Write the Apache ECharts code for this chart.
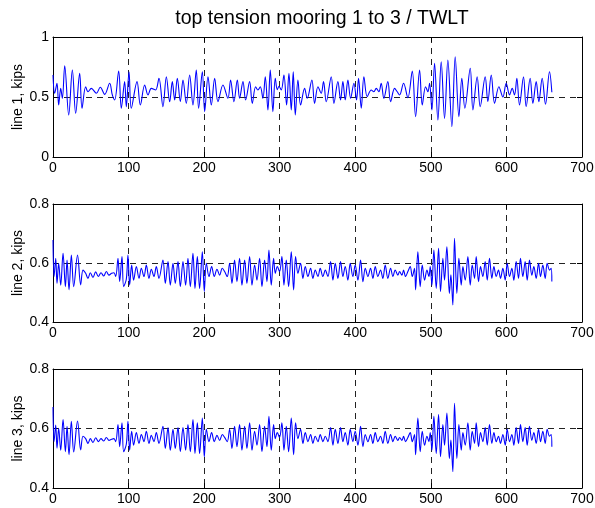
<!DOCTYPE html>
<html>
<head>
<meta charset="utf-8">
<script src="https://cdn.jsdelivr.net/npm/echarts@6/dist/echarts.min.js"></script>
<style>html,body{margin:0;padding:0;background:#fff}#c{width:595px;height:508px}</style>
</head>
<body>
<div id="c"></div>
<script>
// ---- data (time in s, tension in kips) ----
const titleText = 'top tension mooring 1 to 3 / TWLT';
const yNames = ['line 1, kips', 'line 2, kips', 'line 3, kips'];
const xTicks = [0, 100, 200, 300, 400, 500, 600, 700];
const yRange1 = [0, 1, 0.5];
const yRange23 = [0.4, 0.8, 0.2];

const time1 = [
  0, 2.2, 5.3, 7.5, 10.2, 12.4, 15.5, 20.8, 25.6, 30.0,
  35.3, 38.4, 43.2, 46.3, 50.7, 57.4, 62.6, 68.4, 75.0, 78.5,
  81.6, 86.9, 90.4, 94.8, 97.0, 100.6, 103.6, 111.2, 115.6, 121.3,
  125.7, 130.1, 135.8, 140.2, 145.5, 150.0, 154.4, 157.9, 161.0, 164.5,
  168.5, 172.0, 176.4, 180.8, 185.2, 189.6, 192.7, 197.6, 200.7, 205.1,
  209.5, 213.9, 218.3, 224.9,
  231.5, 235.0, 239.4, 243.9, 246.9, 251.4, 254.9, 260.2, 263.7, 268.1,
  271.2, 274.3, 277.8, 280.9, 284.4, 287.5, 291.0, 294.1, 296.8, 299.0,
  302.0, 305.6, 309.1, 312.2, 315.3, 317.9, 320.6, 324.1, 327.6, 332.9,
  336.4, 342.6, 346.1, 350.6, 354.9, 358.0, 361.6, 368.2, 371.7, 377.0,
  380.5, 383.6, 386.7, 390.2, 393.8, 398.2, 401.7, 404.3, 407.9, 411.4,
  415.8, 421.1, 424.6, 427.7, 431.2, 434.3, 437.8, 443.1, 446.7, 452.0,
  455.5,
  458.6, 463.9, 469.6, 475.4, 479.8, 485.1, 488.6, 493.0, 496.1, 498.3,
  501.4, 504.9, 509.3, 513.7, 518.1, 522.5, 527.8, 532.2, 537.1, 541.0,
  545.0, 552.1, 555.6, 561.3, 565.3, 571.9, 575.4, 579.9, 584.3, 590.0,
  595.3, 599.7, 604.1, 607.6, 610.7, 613.8, 617.3, 622.6, 626.1, 631.4,
  635.0, 639.4, 642.9, 647.3, 651.7, 657.0, 660.1
];
const line1 = [
  0.683, 0.531, 0.614, 0.433, 0.572, 0.489, 0.761, 0.350, 0.725, 0.364,
  0.697, 0.406, 0.586, 0.544, 0.572, 0.531, 0.581, 0.522, 0.614, 0.517,
  0.475, 0.717, 0.406, 0.628, 0.419, 0.711, 0.406, 0.628, 0.433, 0.600,
  0.517, 0.572, 0.558, 0.656, 0.419, 0.669, 0.461, 0.628, 0.475, 0.656,
  0.461, 0.642, 0.447, 0.683, 0.433, 0.725, 0.406, 0.711, 0.378, 0.669,
  0.433, 0.656, 0.461, 0.600,
  0.489, 0.642, 0.461, 0.642, 0.489, 0.628, 0.475, 0.628, 0.447, 0.586,
  0.558, 0.586, 0.489, 0.669, 0.392, 0.725, 0.378, 0.656, 0.560, 0.590,
  0.558, 0.683, 0.433, 0.697, 0.392, 0.711, 0.350, 0.642, 0.433, 0.572,
  0.489, 0.642, 0.447, 0.586, 0.531, 0.628, 0.461, 0.669, 0.447, 0.628,
  0.475, 0.628, 0.475, 0.642, 0.489, 0.614, 0.475, 0.656, 0.406, 0.669,
  0.503, 0.558, 0.544, 0.572, 0.544, 0.614, 0.489, 0.628, 0.461, 0.572,
  0.544,
  0.517, 0.614, 0.494, 0.717, 0.336, 0.725, 0.433, 0.586, 0.544, 0.614,
  0.392, 0.781, 0.308, 0.794, 0.322, 0.808, 0.253, 0.836, 0.336, 0.656,
  0.406, 0.739, 0.392, 0.669, 0.419, 0.669, 0.461, 0.683, 0.447, 0.586,
  0.500, 0.614, 0.517, 0.572, 0.517, 0.656, 0.433, 0.669, 0.419, 0.656,
  0.447, 0.628, 0.461, 0.656, 0.439, 0.711, 0.539
];

const time23 = [
  0, 1.4, 3.6, 5.3, 7.5, 10.2, 13.3, 16.4, 18.6, 21.2,
  24.3, 27.4, 32.5, 36.6, 39.7, 43.2, 46.3, 49.4, 52.9, 56.5,
  60.0, 63.5, 67.1, 70.6, 74.1, 77.6, 80.7, 83.0, 86.0, 88.2,
  91.3, 93.5, 97.0, 99.2, 101.4, 104.1, 106.7, 110.3, 113.8, 116.9,
  120.4, 123.5, 127.0, 130.1, 133.6, 136.7, 140.2, 145.5, 148.6, 152.2,
  155.2, 158.8, 161.8, 165.4, 168.5, 172.0, 175.5, 178.6, 181.7, 185.2,
  187.9, 191.0, 194.0, 197.6, 200.2, 202.9, 206.4, 209.9, 213.4, 217.0,
  220.5, 224.0,
  227.1, 230.6, 233.7, 236.8, 240.3, 243.4, 246.9, 250.0, 253.6, 256.6,
  260.2, 263.3, 266.8, 269.9, 273.4, 276.5, 280.0, 283.1, 285.7, 288.8,
  291.9, 294.1, 296.8, 299.8, 302.9, 305.6, 308.7, 311.8, 315.3, 318.4,
  321.0, 324.1, 327.6, 330.7, 333.8, 337.3, 340.9, 343.9, 347.0, 350.6,
  353.6, 357.2, 360.3, 363.8, 367.3, 370.4, 373.5, 377.0, 380.5, 383.6,
  386.7, 390.2, 393.3, 396.8, 399.9, 403.5, 407.0, 410.1, 413.2, 416.7,
  420.2, 423.3, 426.4, 429.9, 433.4, 436.5, 439.6, 443.1, 446.7, 449.8,
  452.8, 456.4,
  458.6, 461.7, 463.9, 466.5, 469.6, 472.7, 475.4, 478.4, 479.8, 482.8,
  485.9, 488.6, 491.7, 494.8, 497.4, 499.2, 501.4, 504.0, 507.1, 510.2,
  512.8, 515.9, 518.1, 521.2, 524.5, 526.5, 529.1, 531.3, 534.4, 537.1,
  540.2, 542.4, 545.5, 549.0, 552.1, 554.7, 557.8, 560.0, 563.1, 565.7,
  568.8, 571.9, 574.6, 577.6, 580.7, 583.4, 586.5, 589.5, 592.2, 595.3,
  598.4, 601.0, 604.1, 607.2, 609.8, 612.9, 616.0, 618.6, 621.7, 624.8,
  627.5, 630.5, 633.6, 636.3, 639.4, 642.5, 645.1, 648.2, 651.3, 653.9,
  657.0, 659.2, 660.1
];
const line2 = [
  0.678, 0.554, 0.616, 0.531, 0.599, 0.525, 0.633, 0.520, 0.610, 0.509,
  0.627, 0.520, 0.627, 0.526, 0.576, 0.565, 0.548, 0.567, 0.551, 0.570,
  0.554, 0.567, 0.556, 0.571, 0.559, 0.565, 0.567, 0.554, 0.616, 0.537,
  0.622, 0.520, 0.545, 0.627, 0.525, 0.593, 0.542, 0.588, 0.548, 0.582,
  0.554, 0.593, 0.548, 0.579, 0.554, 0.588, 0.548, 0.610, 0.531, 0.605,
  0.525, 0.599, 0.531, 0.605, 0.520, 0.605, 0.525, 0.616, 0.520, 0.633,
  0.514, 0.622, 0.514, 0.638, 0.503, 0.599, 0.554, 0.588, 0.554, 0.579,
  0.559, 0.582,
  0.571, 0.554, 0.599, 0.531, 0.610, 0.537, 0.616, 0.525, 0.610, 0.531,
  0.622, 0.525, 0.593, 0.542, 0.616, 0.520, 0.610, 0.537, 0.644, 0.525,
  0.616, 0.565, 0.588, 0.571, 0.622, 0.525, 0.610, 0.520, 0.638, 0.509,
  0.622, 0.565, 0.599, 0.548, 0.588, 0.554, 0.582, 0.548, 0.576, 0.554,
  0.582, 0.554, 0.576, 0.554, 0.605, 0.542, 0.599, 0.548, 0.605, 0.554,
  0.588, 0.542, 0.599, 0.554, 0.593, 0.542, 0.610, 0.537, 0.582, 0.554,
  0.582, 0.548, 0.588, 0.554, 0.576, 0.548, 0.593, 0.548, 0.582, 0.554,
  0.576, 0.559,
  0.571, 0.559, 0.576, 0.554, 0.571, 0.588, 0.554, 0.582, 0.509, 0.638,
  0.520, 0.593, 0.542, 0.576, 0.554, 0.588, 0.525, 0.644, 0.514, 0.650,
  0.503, 0.616, 0.542, 0.655, 0.497, 0.560, 0.458, 0.684, 0.497, 0.616,
  0.525, 0.588, 0.542, 0.622, 0.525, 0.593, 0.548, 0.622, 0.537, 0.588,
  0.554, 0.605, 0.542, 0.616, 0.548, 0.588, 0.554, 0.576, 0.548, 0.582,
  0.542, 0.599, 0.554, 0.582, 0.542, 0.605, 0.548, 0.616, 0.554, 0.605,
  0.542, 0.610, 0.559, 0.588, 0.548, 0.599, 0.554, 0.593, 0.548, 0.599,
  0.576, 0.582, 0.537
];
const line3 = [
  0.672, 0.556, 0.612, 0.534, 0.601, 0.527, 0.630, 0.522, 0.607, 0.512,
  0.624, 0.521, 0.625, 0.528, 0.574, 0.566, 0.550, 0.566, 0.553, 0.569,
  0.556, 0.566, 0.558, 0.570, 0.560, 0.564, 0.566, 0.556, 0.613, 0.539,
  0.619, 0.522, 0.547, 0.624, 0.527, 0.591, 0.544, 0.586, 0.550, 0.580,
  0.556, 0.591, 0.550, 0.577, 0.556, 0.586, 0.550, 0.607, 0.533, 0.603,
  0.527, 0.597, 0.533, 0.603, 0.522, 0.603, 0.527, 0.613, 0.522, 0.630,
  0.516, 0.619, 0.516, 0.635, 0.505, 0.597, 0.556, 0.586, 0.556, 0.577,
  0.560, 0.580,
  0.570, 0.556, 0.597, 0.533, 0.607, 0.539, 0.613, 0.527, 0.607, 0.533,
  0.619, 0.527, 0.591, 0.544, 0.613, 0.522, 0.607, 0.539, 0.641, 0.527,
  0.613, 0.566, 0.586, 0.570, 0.619, 0.527, 0.607, 0.522, 0.635, 0.512,
  0.619, 0.566, 0.597, 0.550, 0.586, 0.556, 0.580, 0.550, 0.574, 0.556,
  0.580, 0.556, 0.574, 0.556, 0.603, 0.544, 0.597, 0.550, 0.603, 0.556,
  0.586, 0.544, 0.597, 0.556, 0.591, 0.544, 0.607, 0.539, 0.580, 0.556,
  0.580, 0.550, 0.586, 0.556, 0.574, 0.550, 0.591, 0.550, 0.580, 0.556,
  0.574, 0.560,
  0.570, 0.560, 0.574, 0.556, 0.570, 0.586, 0.556, 0.580, 0.512, 0.635,
  0.522, 0.591, 0.544, 0.574, 0.556, 0.586, 0.527, 0.641, 0.516, 0.647,
  0.505, 0.613, 0.544, 0.652, 0.499, 0.561, 0.455, 0.685, 0.499, 0.613,
  0.527, 0.586, 0.544, 0.619, 0.527, 0.591, 0.550, 0.619, 0.539, 0.586,
  0.556, 0.603, 0.544, 0.613, 0.550, 0.586, 0.556, 0.574, 0.550, 0.580,
  0.544, 0.597, 0.556, 0.580, 0.544, 0.603, 0.550, 0.613, 0.556, 0.603,
  0.544, 0.607, 0.560, 0.586, 0.550, 0.597, 0.556, 0.591, 0.550, 0.597,
  0.574, 0.580, 0.539
];

// ---- chart ----
function pairs(t, v) {
  const n = Math.min(t.length, v.length);
  const out = [];
  for (let i = 0; i < n; i++) out.push([t[i], v[i]]);
  return out;
}
const FONT = '"Liberation Sans", Arial, Helvetica, sans-serif';
const grids = [
  { left: 53, right: 13, top: 37, height: 120, containLabel: false, outerBoundsMode: 'none' },
  { left: 53, right: 13, top: 204, height: 118, containLabel: false, outerBoundsMode: 'none' },
  { left: 53, right: 13, top: 369, height: 119, containLabel: false, outerBoundsMode: 'none' }
];
const yRanges = [yRange1, yRange23, yRange23];
const xAxes = [], yAxes = [];
grids.forEach((g, i) => {
  xAxes.push({
    gridIndex: i, type: 'value', position: 'bottom',
    min: xTicks[0], max: xTicks[xTicks.length - 1], interval: xTicks[1] - xTicks[0],
    axisLine: { show: true, onZero: false, lineStyle: { color: '#000', width: 1 } },
    axisTick: { show: true, inside: true, length: 5, lineStyle: { color: '#000' } },
    axisLabel: { color: '#000', fontSize: 14, margin: 4, fontFamily: FONT },
    splitLine: { show: true, lineStyle: { color: '#222', width: 1, type: [6, 5] } }
  });
  xAxes.push({
    gridIndex: i, type: 'value', position: 'top',
    min: xTicks[0], max: xTicks[xTicks.length - 1], interval: xTicks[1] - xTicks[0],
    axisLine: { show: true, onZero: false, lineStyle: { color: '#000', width: 1 } },
    axisTick: { show: true, inside: true, length: 5, lineStyle: { color: '#000' } },
    axisLabel: { show: false }, splitLine: { show: false }
  });
  const r = yRanges[i];
  yAxes.push({
    gridIndex: i, type: 'value', position: 'left',
    min: r[0], max: r[1], interval: r[2],
    name: yNames[i], nameLocation: 'middle', nameRotate: 90, nameGap: 28,
    nameMoveOverlap: false,
    nameTextStyle: { color: '#000', fontSize: 14, fontFamily: FONT },
    axisLine: { show: true, onZero: false, lineStyle: { color: '#000', width: 1 } },
    axisTick: { show: true, inside: true, length: 5, lineStyle: { color: '#000' } },
    axisLabel: { color: '#000', fontSize: 14, margin: 4, fontFamily: FONT,
      formatter: v => String(Math.round(v * 10) / 10) },
    splitLine: { show: true, lineStyle: { color: '#222', width: 1, type: [6, 5] } }
  });
  yAxes.push({
    gridIndex: i, type: 'value', position: 'right',
    min: r[0], max: r[1], interval: r[2],
    axisLine: { show: true, onZero: false, lineStyle: { color: '#000', width: 1 } },
    axisTick: { show: true, inside: true, length: 5, lineStyle: { color: '#000' } },
    axisLabel: { show: false }, splitLine: { show: false }
  });
});
const seriesData = [pairs(time1, line1), pairs(time23, line2), pairs(time23, line3)];
const chart = echarts.init(document.getElementById('c'), null, { renderer: 'canvas' });
chart.setOption({
  animation: false,
  backgroundColor: '#fff',
  title: {
    text: titleText, left: 317, top: 4, textAlign: 'center',
    textStyle: { color: '#000', fontSize: 19.5, fontWeight: 'normal', fontFamily: FONT }
  },
  grid: grids,
  xAxis: xAxes,
  yAxis: yAxes,
  series: seriesData.map((d, i) => ({
    type: 'line', xAxisIndex: i * 2, yAxisIndex: i * 2, data: d,
    showSymbol: false, smooth: 0.35, clip: true,
    lineStyle: { color: '#0000ff', width: 1.1 }, z: 3
  }))
});
</script>
</body>
</html>
